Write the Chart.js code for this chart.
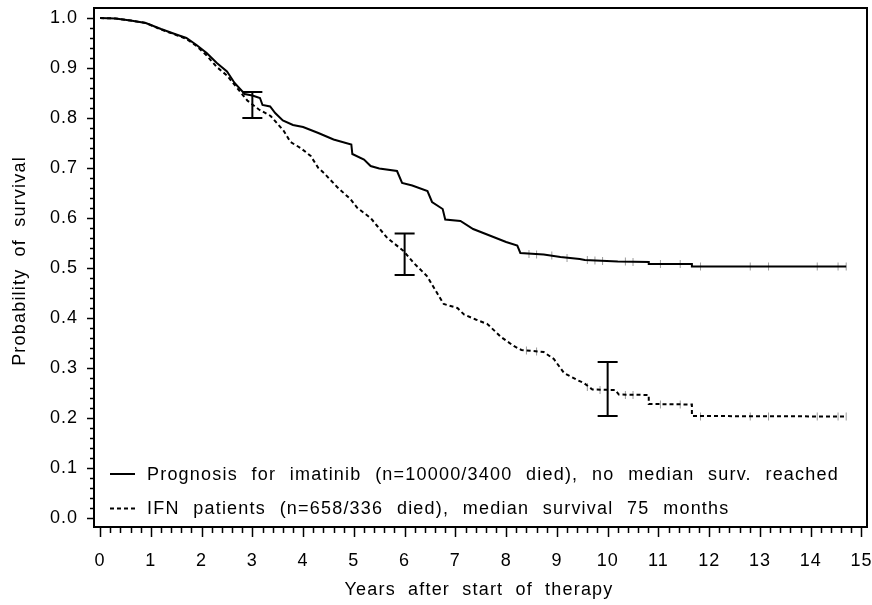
<!DOCTYPE html>
<html><head><meta charset="utf-8">
<script src="https://cdn.jsdelivr.net/npm/chart.js@4.4.0/dist/chart.umd.min.js"></script>
<style>html,body{margin:0;padding:0;background:#fff}</style>
</head><body>
<canvas id="c" width="872" height="605"></canvas>
<script>
// ---- data ----
const imatinibX = [0,0.3,0.6,0.9,1.2,1.5,1.7,1.9,2.1,2.3,2.5,2.65,2.85,3.0,3.15,3.2,3.35,3.45,3.6,3.8,4.0,4.3,4.6,4.95,4.97,5.2,5.33,5.5,5.85,5.95,6.15,6.45,6.54,6.75,6.8,7.1,7.35,7.7,8.0,8.22,8.28,8.74,9.07,9.45,9.55,10.2,10.81,10.81,11.66,11.66,14.7];
const imatinibY = [1.0,0.999,0.995,0.99,0.978,0.967,0.96,0.946,0.93,0.91,0.893,0.87,0.848,0.845,0.84,0.826,0.823,0.81,0.795,0.786,0.782,0.77,0.757,0.747,0.728,0.717,0.704,0.699,0.694,0.67,0.665,0.654,0.632,0.618,0.597,0.594,0.578,0.564,0.552,0.545,0.53,0.527,0.522,0.518,0.516,0.513,0.512,0.508,0.508,0.503,0.503];
const ifnX = [0,0.3,0.6,0.9,1.2,1.5,1.7,1.9,2.1,2.3,2.5,2.7,2.9,3.13,3.36,3.62,3.75,3.95,4.15,4.3,4.41,4.67,4.93,5.07,5.33,5.46,5.66,5.98,6.18,6.44,6.64,6.77,7.04,7.17,7.4,7.63,7.9,8.15,8.3,8.74,8.94,9.14,9.4,9.53,9.7,10.15,10.22,10.81,10.81,11.66,11.66,14.7];
const ifnY = [1.0,0.999,0.995,0.99,0.977,0.966,0.958,0.944,0.925,0.902,0.885,0.86,0.835,0.817,0.804,0.774,0.752,0.74,0.724,0.7,0.69,0.662,0.638,0.62,0.6,0.584,0.56,0.534,0.51,0.484,0.45,0.428,0.42,0.407,0.397,0.388,0.362,0.344,0.336,0.332,0.318,0.29,0.276,0.27,0.257,0.256,0.247,0.246,0.228,0.227,0.204,0.203];
const errorX = [3, 6, 10];
const errorLow = [0.800, 0.486, 0.204];
const errorHigh = [0.852, 0.569, 0.312];
const censorImatinibX = [8.45,8.6,8.9,9.2,9.6,9.75,9.9,10.35,10.5,11.04,11.43,11.83,12.81,13.17,14.13,14.54,14.7];
const censorImatinibY = [0.528,0.527,0.525,0.52,0.516,0.515,0.514,0.513,0.512,0.508,0.508,0.503,0.503,0.503,0.503,0.503,0.503];
const censorIfnX = [8.4,8.6,9.6,9.85,10.0,10.35,10.5,11.04,11.43,11.83,12.81,13.17,14.13,14.54,14.7];
const censorIfnY = [0.335,0.333,0.262,0.256,0.256,0.246,0.246,0.227,0.227,0.203,0.203,0.203,0.203,0.203,0.203];
const legendLabels = [
  "Prognosis for imatinib (n=10000/3400 died), no median surv. reached",
  "IFN patients (n=658/336 died), median survival 75 months"
];
const xTitle = "Years after start of therapy";
const yTitle = "Probability of survival";

const FONT = "'Liberation Sans', Arial, Helvetica, sans-serif";
const pts = (xs, ys) => xs.map((x, i) => ({x, y: ys[i]}));

const spacing = {
  id: 'spacing',
  beforeDraw(chart) {
    try { chart.ctx.letterSpacing = '1px'; } catch (e) {}
  }
};

const extras = {
  id: 'extras',
  afterDatasetsDraw(chart) {
    const {ctx, chartArea: a, scales: {x, y}} = chart;
    ctx.save();
    ctx.strokeStyle = '#000';
    // error bars
    ctx.lineWidth = 2;
    errorX.forEach((ex, i) => {
      const px = x.getPixelForValue(ex), p1 = y.getPixelForValue(errorLow[i]), p2 = y.getPixelForValue(errorHigh[i]);
      ctx.beginPath();
      ctx.moveTo(px, p1); ctx.lineTo(px, p2);
      ctx.moveTo(px - 10, p1); ctx.lineTo(px + 10, p1);
      ctx.moveTo(px - 10, p2); ctx.lineTo(px + 10, p2);
      ctx.stroke();
    });
    // frame
    ctx.lineWidth = 2;
    ctx.strokeRect(a.left, a.top, a.right - a.left, a.bottom - a.top);
    // tick marks
    ctx.lineWidth = 1.5;
    ctx.beginPath();
    for (let i = 0; i <= 50; i++) {
      const py = Math.round(y.getPixelForValue(i / 50)) + 0.5;
      const len = i % 5 === 0 ? 6 : 3;
      ctx.moveTo(a.left - 1, py); ctx.lineTo(a.left - 1 - len, py);
    }
    for (let i = 0; i <= 75; i++) {
      const px = Math.round(x.getPixelForValue(i / 5)) + 0.5;
      const len = i % 5 === 0 ? 9 : 5;
      ctx.moveTo(px, a.bottom + 1); ctx.lineTo(px, a.bottom + 1 + len);
    }
    ctx.stroke();
    // legend
    ctx.font = '18px ' + FONT;
    ctx.fillStyle = '#000';
    ctx.textBaseline = 'middle';
    ctx.textAlign = 'left';
    try { ctx.letterSpacing = '1.2px'; ctx.wordSpacing = '7.5px'; } catch (e) {}
    const rows = [474, 508.5];
    rows.forEach((ry, i) => {
      ctx.lineWidth = 2;
      ctx.setLineDash(i === 0 ? [] : [4, 3]);
      ctx.beginPath(); ctx.moveTo(110, ry); ctx.lineTo(135, ry); ctx.stroke();
      ctx.setLineDash([]);
      ctx.fillText(legendLabels[i], 147, ry + 1);
    });
    // axis titles
    try { ctx.wordSpacing = '6px'; } catch (e) {}
    ctx.textAlign = 'center';
    ctx.fillText(xTitle, 479, 590);
    ctx.translate(20, 261);
    ctx.rotate(-Math.PI / 2);
    ctx.fillText(yTitle, 0, 0);
    ctx.restore();
  }
};

new Chart(document.getElementById('c'), {
  type: 'line',
  data: {
    datasets: [
      {data: pts(imatinibX, imatinibY), borderColor: '#000', borderWidth: 2, pointRadius: 0, tension: 0, fill: false},
      {data: pts(ifnX, ifnY), borderColor: '#000', borderWidth: 2, borderDash: [4, 3], pointRadius: 0, tension: 0, fill: false},
      {type: 'scatter', data: pts(censorImatinibX, censorImatinibY), pointStyle: 'line', rotation: 90, radius: 4, borderColor: 'rgba(90,90,90,0.6)', borderWidth: 1},
      {type: 'scatter', data: pts(censorIfnX, censorIfnY), pointStyle: 'line', rotation: 90, radius: 4, borderColor: 'rgba(90,90,90,0.6)', borderWidth: 1}
    ]
  },
  options: {
    responsive: false,
    animation: false,
    devicePixelRatio: 1,
    layout: {padding: {top: 8, right: 5, left: 0, bottom: 0}},
    plugins: {legend: {display: false}, tooltip: {enabled: false}},
    scales: {
      x: {
        type: 'linear', min: -0.12, max: 15.11,
        grid: {display: false, drawTicks: false}, border: {display: false},
        ticks: {stepSize: 1, includeBounds: false, autoSkip: false, maxRotation: 0, color: '#000', font: {family: FONT, size: 18}, padding: 23,
                callback: v => Number.isInteger(v) ? String(v) : ''},
        afterFit: s => { s.height = 78; s.paddingLeft = 0; s.paddingRight = 0; }
      },
      y: {
        type: 'linear', min: -0.018, max: 1.02,
        grid: {display: false, drawTicks: false}, border: {display: false},
        ticks: {stepSize: 0.1, includeBounds: false, color: '#000', font: {family: FONT, size: 18}, padding: 16,
                callback: v => v.toFixed(1)},
        afterFit: s => { s.width = 94; s.paddingTop = 0; s.paddingBottom = 0; }
      }
    }
  },
  plugins: [spacing, extras]
});
</script>
</body></html>
